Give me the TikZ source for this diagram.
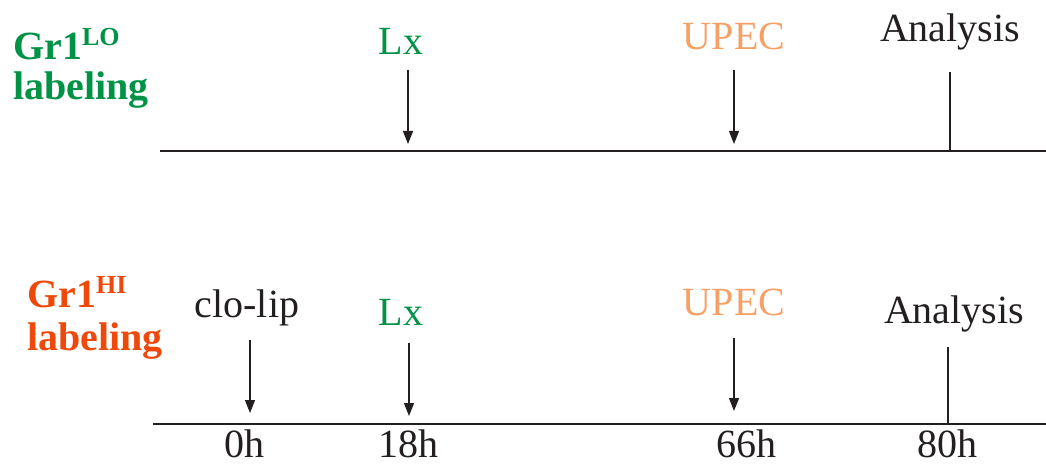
\documentclass[tikz,border=0pt]{standalone}
\usepackage{fontspec}
\setmainfont{Liberation Serif}
\usetikzlibrary{arrows.meta}
\definecolor{grn}{RGB}{0,146,69}
\definecolor{hired}{RGB}{238,72,10}
\definecolor{upec}{RGB}{247,160,102}
\definecolor{ink}{RGB}{35,31,32}
\tikzset{
  lbl/.style={anchor=base, inner sep=0pt, font=\fontsize{40}{40}\selectfont, text=ink},
  grp/.style={anchor=base west, inner sep=0pt, align=left, font=\fontsize{40}{42}\selectfont\bfseries},
  axis/.style={draw=ink, line width=1.3pt},
  evt/.style={draw=ink, line width=1.1pt, -{Triangle[length=13pt,width=10pt]}},
  tick/.style={draw=ink, line width=1.1pt}
}
\newcommand{\sups}[1]{\raisebox{14pt}{\fontsize{26}{26}\selectfont #1}}
\begin{document}
\begin{tikzpicture}[x=1pt,y=-1pt]
\useasboundingbox (0,0) rectangle (1046,465);
% group labels
\node[grp, text=grn] (lo1) at (13,60) {Gr1\sups{LO}};
\node[grp, text=grn] (lo2) at (13,100) {labeling};
\node[grp, text=hired] (hi1) at (27,307) {Gr1\sups{HI}};
\node[grp, text=hired] (hi2) at (27,350) {labeling};
% top timeline
\coordinate (ta) at (160,151);
\coordinate (tb) at (1046,151);
\draw[axis] (ta) -- (tb);
\node[lbl, text=grn] (tlx) at (401,55) {Lx};
\node[lbl, text=upec] (tup) at (734,50) {UPEC};
\node[lbl] (tan) at (950,42) {Analysis};
\coordinate (tlx1) at (408,70); \coordinate (tlx2) at (408,144);
\coordinate (tup1) at (734,70); \coordinate (tup2) at (734,144);
\coordinate (tan1) at (950,72); \coordinate (tan2) at (950,151);
\draw[evt] (tlx1) -- (tlx2);
\draw[evt] (tup1) -- (tup2);
\draw[tick] (tan1) -- (tan2);
% bottom timeline
\coordinate (ba) at (153,424);
\coordinate (bb) at (1046,424);
\draw[axis] (ba) -- (bb);
\node[lbl] (bcl) at (247,317) {clo-lip};
\node[lbl, text=grn] (blx) at (401,325) {Lx};
\node[lbl, text=upec] (bup) at (734,315) {UPEC};
\node[lbl] (ban) at (954,323) {Analysis};
\coordinate (bcl1) at (250,340); \coordinate (bcl2) at (250,413);
\coordinate (blx1) at (409,343); \coordinate (blx2) at (409,416);
\coordinate (bup1) at (734,338); \coordinate (bup2) at (734,411);
\coordinate (ban1) at (948,347); \coordinate (ban2) at (948,424);
\draw[evt] (bcl1) -- (bcl2);
\draw[evt] (blx1) -- (blx2);
\draw[evt] (bup1) -- (bup2);
\draw[tick] (ban1) -- (ban2);
% time labels
\node[lbl] (t0) at (244,457) {0h};
\node[lbl] (t18) at (408,457) {18h};
\node[lbl] (t66) at (746,457) {66h};
\node[lbl] (t80) at (947,457) {80h};
\end{tikzpicture}
\end{document}
